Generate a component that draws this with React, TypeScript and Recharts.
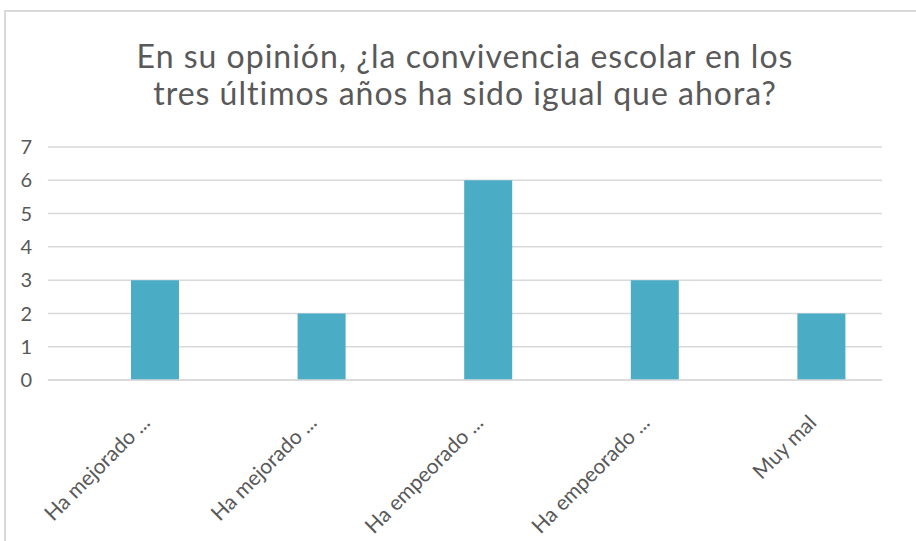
import React from 'react';
import { BarChart, Bar, XAxis, YAxis, CartesianGrid } from 'recharts';

const categories = ['Ha mejorado ...', 'Ha mejorado ...', 'Ha empeorado ...', 'Ha empeorado ...', 'Muy mal'];
const respuestas = [3, 2, 6, 3, 2];
const yTicks = [0, 1, 2, 3, 4, 5, 6, 7];

const chartData = categories.map((name, i) => ({ name, value: respuestas[i] }));

const FONT = 'Lato, "Open Sans", sans-serif';
const TEXT = '#595959';
const GRID = '#d9d9d9';

// labels rotated like Excel's -45deg category labels
const AngledTick = ({ x, y, payload }: any) => (
  <g transform={`translate(${x - 4},${y + 36})`}>
    <text
      x={0}
      y={0}
      transform="rotate(-45)"
      textAnchor="end"
      fill={TEXT}
      fontSize={21}
      fontFamily={FONT}
    >
      {payload.value}
    </text>
  </g>
);

export default function App() {
  return (
    <div style={{ position: 'absolute', left: 0, top: 0, width: 916, height: 541, overflow: 'hidden', background: '#fff' }}>
      <div
        style={{
          position: 'absolute',
          left: 4,
          top: 10,
          width: 940,
          height: 560,
          border: `2px solid ${GRID}`,
          boxSizing: 'border-box',
        }}
      />
      <div
        style={{
          position: 'absolute',
          left: 0,
          top: 37,
          width: 930,
          textAlign: 'center',
          fontFamily: FONT,
          fontSize: 32,
          letterSpacing: 1,
          lineHeight: '37px',
          color: TEXT,
        }}
      >
        En su opinión, ¿la convivencia escolar en los
        <br />
        tres últimos años ha sido igual que ahora?
      </div>
      <div style={{ position: 'absolute', left: 0, top: 0 }}>
        <BarChart
          width={916}
          height={541}
          data={chartData}
          margin={{ top: 147, right: 34, bottom: 0, left: 0 }}
        >
          <CartesianGrid vertical={false} stroke={GRID} strokeWidth={1.5} />
          <XAxis
            dataKey="name"
            interval={0}
            tickLine={false}
            axisLine={{ stroke: GRID, strokeWidth: 1.5 }}
            padding={{ left: 24, right: -23 }}
            tick={<AngledTick />}
            height={161}
          />
          <YAxis
            domain={[0, 7]}
            ticks={yTicks}
            width={48}
            tickLine={false}
            axisLine={false}
            tickSize={0}
            tickMargin={16}
            tick={{ fill: TEXT, fontSize: 20, fontFamily: FONT }}
          />
          <Bar dataKey="value" fill="#4BACC6" barSize={48} isAnimationActive={false} />
        </BarChart>
      </div>
    </div>
  );
}
